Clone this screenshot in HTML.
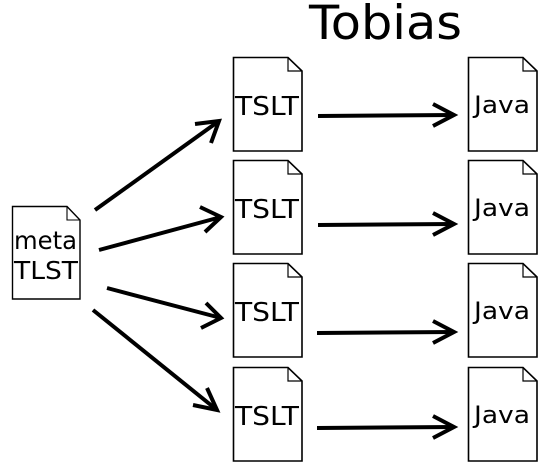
<!DOCTYPE html>
<html><head><meta charset="utf-8"><style>html,body{margin:0;padding:0;background:#fff}svg{display:block}</style></head>
<body>
<svg width="547" height="469" viewBox="0 0 547 469" xmlns="http://www.w3.org/2000/svg" font-family="DejaVu Sans, Liberation Sans, sans-serif">
<defs>
<g id="doc"><path d="M0.5,0.5 H55 L69,14 V94 H0.5 Z" fill="#fff" stroke="#000" stroke-width="1.6"/><path d="M55,0.5 V14 H69" fill="none" stroke="#000" stroke-width="1.2"/></g>
</defs>
<text x="309" y="39" font-size="47" textLength="153" lengthAdjust="spacingAndGlyphs">Tobias</text>
<g transform="translate(12,206)"><path d="M0.5,0.5 H55 L68,14 V93 H0.5 Z" fill="#fff" stroke="#000" stroke-width="1.4"/><path d="M55,0.5 V14 H68" fill="none" stroke="#000" stroke-width="1.1"/></g>
<text x="14" y="249" font-size="25" textLength="63" lengthAdjust="spacingAndGlyphs">meta</text>
<text x="14" y="279" font-size="25" textLength="64" lengthAdjust="spacingAndGlyphs">TLST</text>
<use href="#doc" x="233" y="57"/><use href="#doc" x="233" y="160"/><use href="#doc" x="233" y="263"/><use href="#doc" x="233" y="367"/>
<use href="#doc" x="468" y="57"/><use href="#doc" x="468" y="160"/><use href="#doc" x="468" y="263"/><use href="#doc" x="468" y="367"/>
<g font-size="26">
<text x="235" y="115" textLength="64" lengthAdjust="spacingAndGlyphs">TSLT</text>
<text x="235" y="218" textLength="64" lengthAdjust="spacingAndGlyphs">TSLT</text>
<text x="235" y="321" textLength="64" lengthAdjust="spacingAndGlyphs">TSLT</text>
<text x="235" y="425" textLength="64" lengthAdjust="spacingAndGlyphs">TSLT</text>
</g>
<g font-size="24">
<text x="474" y="113" textLength="56" lengthAdjust="spacingAndGlyphs">Java</text>
<text x="474" y="216" textLength="56" lengthAdjust="spacingAndGlyphs">Java</text>
<text x="474" y="319" textLength="56" lengthAdjust="spacingAndGlyphs">Java</text>
<text x="474" y="423" textLength="56" lengthAdjust="spacingAndGlyphs">Java</text>
</g>
<g stroke="#000" stroke-width="4" fill="none" stroke-linecap="butt">
<line x1="95" y1="210" x2="219" y2="121"/><polyline points="195,124 219,121 211,143"/>
<line x1="99" y1="250" x2="221" y2="217"/><polyline points="200,207 221,217 205,232"/>
<line x1="107" y1="288" x2="221" y2="318"/><polyline points="206,303 221,318 201,328"/>
<line x1="93" y1="310" x2="217" y2="410"/><polyline points="207,388 217,410 193,405"/>
<line x1="318" y1="116" x2="454" y2="115"/><polyline points="433,104 454,115 433,126"/>
<line x1="318" y1="225" x2="454" y2="224"/><polyline points="433,213 454,224 433,235"/>
<line x1="317" y1="333" x2="454" y2="332"/><polyline points="433,321 454,332 433,343"/>
<line x1="317" y1="428" x2="454" y2="427"/><polyline points="433,416 454,427 433,438"/>
</g>
</svg>
</body></html>
